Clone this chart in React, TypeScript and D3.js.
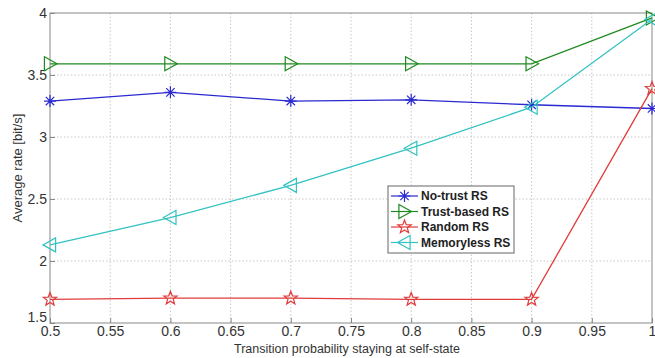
import { useEffect, useRef } from "react";
import * as d3 from "d3";

const xValues = [0.5, 0.6, 0.7, 0.8, 0.9, 1.0];
const noTrust = [3.29, 3.36, 3.29, 3.3, 3.26, 3.23];
const trustBased = [3.59, 3.59, 3.59, 3.59, 3.59, 3.96];
const randomRS = [1.69, 1.7, 1.7, 1.69, 1.69, 3.39];
const memoryless = [2.13, 2.35, 2.61, 2.91, 3.24, 3.95];

const xTicks = [0.5, 0.55, 0.6, 0.65, 0.7, 0.75, 0.8, 0.85, 0.9, 0.95, 1];
const yTicks = [1.5, 2, 2.5, 3, 3.5, 4];

const seriesNames = ["No-trust RS", "Trust-based RS", "Random RS", "Memoryless RS"];

type Marker = "star" | "right" | "pent" | "left";

const series = [
  { name: seriesNames[0], values: noTrust, color: "#2a2ad0", marker: "star" as Marker },
  { name: seriesNames[1], values: trustBased, color: "#1f8a1f", marker: "right" as Marker },
  { name: seriesNames[2], values: randomRS, color: "#e03c3c", marker: "pent" as Marker },
  { name: seriesNames[3], values: memoryless, color: "#33c2c2", marker: "left" as Marker },
];

function markerPath(m: Marker, s: number): string {
  if (m === "star") {
    const a = s * 0.7;
    return `M${-s},0L${s},0M0,${-s}L0,${s}M${-a},${-a}L${a},${a}M${-a},${a}L${a},${-a}`;
  }
  if (m === "right") return `M${-s * 0.8},${-s}L${s},0L${-s * 0.8},${s}Z`;
  if (m === "left") return `M${s * 0.8},${-s}L${-s},0L${s * 0.8},${s}Z`;
  const pts: string[] = [];
  for (let i = 0; i < 10; i++) {
    const r = i % 2 === 0 ? s : s * 0.42;
    const ang = -Math.PI / 2 + (i * Math.PI) / 5;
    pts.push(`${r * Math.cos(ang)},${r * Math.sin(ang)}`);
  }
  return `M${pts.join("L")}Z`;
}

const markerSize: Record<Marker, number> = { star: 6, right: 7, pent: 7, left: 7 };

export default function App() {
  const svgRef = useRef<SVGSVGElement>(null);
  const width = 655;
  const height = 358;
  const margin = { top: 13, right: 3, bottom: 35, left: 50 };

  useEffect(() => {
    if (!svgRef.current) return;
    const svg = d3.select(svgRef.current);
    svg.selectAll("*").remove();

    const innerWidth = width - margin.left - margin.right;
    const innerHeight = height - margin.top - margin.bottom;

    const x = d3.scaleLinear().domain([0.5, 1]).range([0, innerWidth]);
    const y = d3.scaleLinear().domain([1.5, 4]).range([innerHeight, 0]);

    svg.append("rect").attr("width", width).attr("height", height).attr("fill", "#fff");

    const g = svg.append("g").attr("transform", `translate(${margin.left},${margin.top})`);

    // grid
    g.selectAll(".gx")
      .data(xTicks.slice(1, -1))
      .join("line")
      .attr("x1", (d) => x(d))
      .attr("x2", (d) => x(d))
      .attr("y1", 0)
      .attr("y2", innerHeight)
      .attr("stroke", "#c8c8c8")
      .attr("stroke-dasharray", "1.5,2");
    g.selectAll(".gy")
      .data(yTicks.slice(1, -1))
      .join("line")
      .attr("x1", 0)
      .attr("x2", innerWidth)
      .attr("y1", (d) => y(d))
      .attr("y2", (d) => y(d))
      .attr("stroke", "#c8c8c8")
      .attr("stroke-dasharray", "1.5,2");

    // frame
    g.append("rect")
      .attr("width", innerWidth)
      .attr("height", innerHeight)
      .attr("fill", "none")
      .attr("stroke", "#888");

    // axes
    const xAxis = g
      .append("g")
      .attr("transform", `translate(0,${innerHeight})`)
      .call(d3.axisBottom(x).tickValues(xTicks).tickSize(-5).tickPadding(3).tickFormat((d) => String(+d)));
    const yAxis = g
      .append("g")
      .call(d3.axisLeft(y).tickValues(yTicks).tickSize(-5).tickPadding(3).tickFormat((d) => String(+d)));
    [xAxis, yAxis].forEach((ax) => {
      ax.select(".domain").remove();
      ax.selectAll("line").attr("stroke", "#888");
      ax.selectAll("text")
        .attr("fill", "#333")
        .style("font-family", "Liberation Sans, Arial, sans-serif")
        .style("font-size", "14px");
    });
    yAxis.selectAll("text").filter((d) => d === 1.5).attr("dy", "-0.1em");

    // lines and markers
    const line = d3
      .line<number>()
      .x((_, i) => x(xValues[i]))
      .y((d) => y(d));

    series.forEach((s) => {
      g.append("path")
        .datum(s.values)
        .attr("d", line)
        .attr("fill", "none")
        .attr("stroke", s.color)
        .attr("stroke-width", 1.3);
      g.selectAll(null)
        .data(s.values)
        .join("path")
        .attr("transform", (d, i) => `translate(${x(xValues[i])},${y(d)})`)
        .attr("d", markerPath(s.marker, markerSize[s.marker]))
        .attr("fill", "none")
        .attr("stroke", s.color)
        .attr("stroke-width", 1.2);
    });

    // legend
    const lg = svg.append("g").attr("transform", "translate(388,186)");
    lg.append("rect")
      .attr("width", 126)
      .attr("height", 67)
      .attr("fill", "#fff")
      .attr("stroke", "#666");
    series.forEach((s, i) => {
      const cy = 10 + i * 15.5;
      lg.append("line")
        .attr("x1", 3)
        .attr("x2", 30)
        .attr("y1", cy)
        .attr("y2", cy)
        .attr("stroke", s.color)
        .attr("stroke-width", 1.2);
      lg.append("path")
        .attr("transform", `translate(16.5,${cy})`)
        .attr("d", markerPath(s.marker, markerSize[s.marker]))
        .attr("fill", "none")
        .attr("stroke", s.color)
        .attr("stroke-width", 1.2);
      lg.append("text")
        .attr("x", 33)
        .attr("y", cy)
        .attr("dy", "0.35em")
        .style("font-family", "Liberation Sans, Arial, sans-serif")
        .style("font-size", "12px")
        .style("font-weight", "bold")
        .attr("fill", "#222")
        .text(s.name);
    });

    // axis labels
    svg.append("text")
      .attr("x", margin.left + innerWidth / 2 - 4)
      .attr("y", 353)
      .attr("text-anchor", "middle")
      .style("font-family", "Liberation Sans, Arial, sans-serif")
      .style("font-size", "12.5px")
      .attr("fill", "#333")
      .text("Transition probability staying at self-state");
    svg.append("text")
      .attr("transform", `translate(22,${margin.top + innerHeight / 2}) rotate(-90)`)
      .attr("text-anchor", "middle")
      .style("font-family", "Liberation Sans, Arial, sans-serif")
      .style("font-size", "13px")
      .attr("fill", "#333")
      .text("Average rate [bit/s]");
  }, []);

  return (
    <svg
      ref={svgRef}
      width={width}
      height={height}
      style={{ position: "absolute", left: 0, top: 0 }}
    />
  );
}
